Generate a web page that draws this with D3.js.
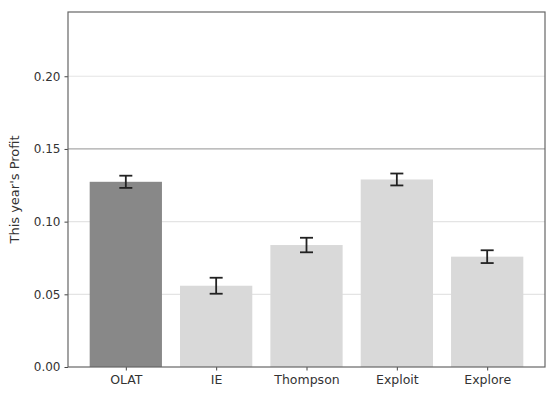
<!DOCTYPE html>
<html>
<head>
<meta charset="utf-8">
<script src="https://cdn.jsdelivr.net/npm/d3@7"></script>
<style>
  body { margin: 0; background: #fff; }
  text { font-family: "DejaVu Sans", sans-serif; }
</style>
</head>
<body>
<div id="chart"></div>
<script>
var svgWidth = 547
var svgHeight = 394

var margin = {top: 12, right: 2, bottom: 27, left: 68}

var plotWidth = svgWidth - margin.left - margin.right
var plotHeight = svgHeight - margin.top - margin.bottom

// data
var categories = ["OLAT", "IE", "Thompson", "Exploit", "Explore"]
var profit = [0.1274, 0.0559, 0.0839, 0.1290, 0.0759]
var profitErr = [0.0042, 0.0055, 0.0050, 0.0041, 0.0044]
var yTicks = [0.00, 0.05, 0.10, 0.15, 0.20]

var svg = d3.select("#chart")
    .append("svg")
    .attr("width", svgWidth)
    .attr("height", svgHeight)

var chartGroup = svg.append("g")
    .attr("transform", `translate(${margin.left}, ${margin.top})`)

var xScale = d3.scaleLinear()
    .domain([-0.64, categories.length - 1 + 0.64])
    .range([0, plotWidth])

var yScale = d3.scaleLinear()
    .domain([0, 0.2442])
    .range([plotHeight, 0])

// gridlines
chartGroup.selectAll(".grid")
    .data(yTicks.slice(1))
    .enter()
    .append("line")
    .attr("x1", 0)
    .attr("x2", plotWidth)
    .attr("y1", d => yScale(d))
    .attr("y2", d => yScale(d))
    .attr("stroke", d => d === 0.15 ? "#a8a8a8" : "#e4e4e4")
    .attr("stroke-width", 1.2)

var barW = xScale(0.8) - xScale(0)

chartGroup.selectAll(".bar")
    .data(profit)
    .enter()
    .append("rect")
    .attr("x", (d, i) => xScale(i - 0.4))
    .attr("y", d => yScale(d))
    .attr("width", barW)
    .attr("height", d => plotHeight - yScale(d))
    .attr("fill", (d, i) => i === 0 ? "#888888" : "#d9d9d9")

// error bars
var errG = chartGroup.selectAll(".err")
    .data(profit)
    .enter()
    .append("g")
    .attr("stroke", "#222")
    .attr("stroke-width", 1.8)

errG.append("line")
    .attr("x1", (d, i) => xScale(i))
    .attr("x2", (d, i) => xScale(i))
    .attr("y1", (d, i) => yScale(d - profitErr[i]))
    .attr("y2", (d, i) => yScale(d + profitErr[i]))

errG.append("line")
    .attr("x1", (d, i) => xScale(i) - 6.5)
    .attr("x2", (d, i) => xScale(i) + 6.5)
    .attr("y1", (d, i) => yScale(d + profitErr[i]))
    .attr("y2", (d, i) => yScale(d + profitErr[i]))

errG.append("line")
    .attr("x1", (d, i) => xScale(i) - 6.5)
    .attr("x2", (d, i) => xScale(i) + 6.5)
    .attr("y1", (d, i) => yScale(d - profitErr[i]))
    .attr("y2", (d, i) => yScale(d - profitErr[i]))

// axes
var xAxis = chartGroup.append("g")
    .attr("transform", "translate(0," + plotHeight + ")")
    .call(d3.axisBottom(xScale)
        .tickValues(d3.range(categories.length))
        .tickFormat(i => categories[i])
        .tickSizeInner(3.5)
        .tickSizeOuter(0)
        .tickPadding(5))

var yAxis = chartGroup.append("g")
    .call(d3.axisLeft(yScale)
        .tickValues(yTicks)
        .tickFormat(d3.format(".2f"))
        .tickSizeInner(3.5)
        .tickSizeOuter(0)
        .tickPadding(4))

chartGroup.selectAll(".tick text")
    .attr("font-family", "DejaVu Sans, sans-serif")
    .attr("fill", "#333")
xAxis.selectAll(".tick text").attr("font-size", 12.5)
yAxis.selectAll(".tick text").attr("font-size", 12)
chartGroup.selectAll(".tick line").attr("stroke", "#444")
chartGroup.selectAll(".domain").remove()

// frame
chartGroup.append("rect")
    .attr("x", 0)
    .attr("y", 0)
    .attr("width", plotWidth)
    .attr("height", plotHeight)
    .attr("fill", "none")
    .attr("stroke", "#666")
    .attr("stroke-width", 1.2)

// y label
chartGroup.append("text")
    .attr("transform", "rotate(-90)")
    .attr("x", 0 - plotHeight / 2)
    .attr("y", 0 - margin.left + 19)
    .attr("text-anchor", "middle")
    .attr("font-size", 13)
    .attr("fill", "#333")
    .text("This year's Profit")
</script>
</body>
</html>
